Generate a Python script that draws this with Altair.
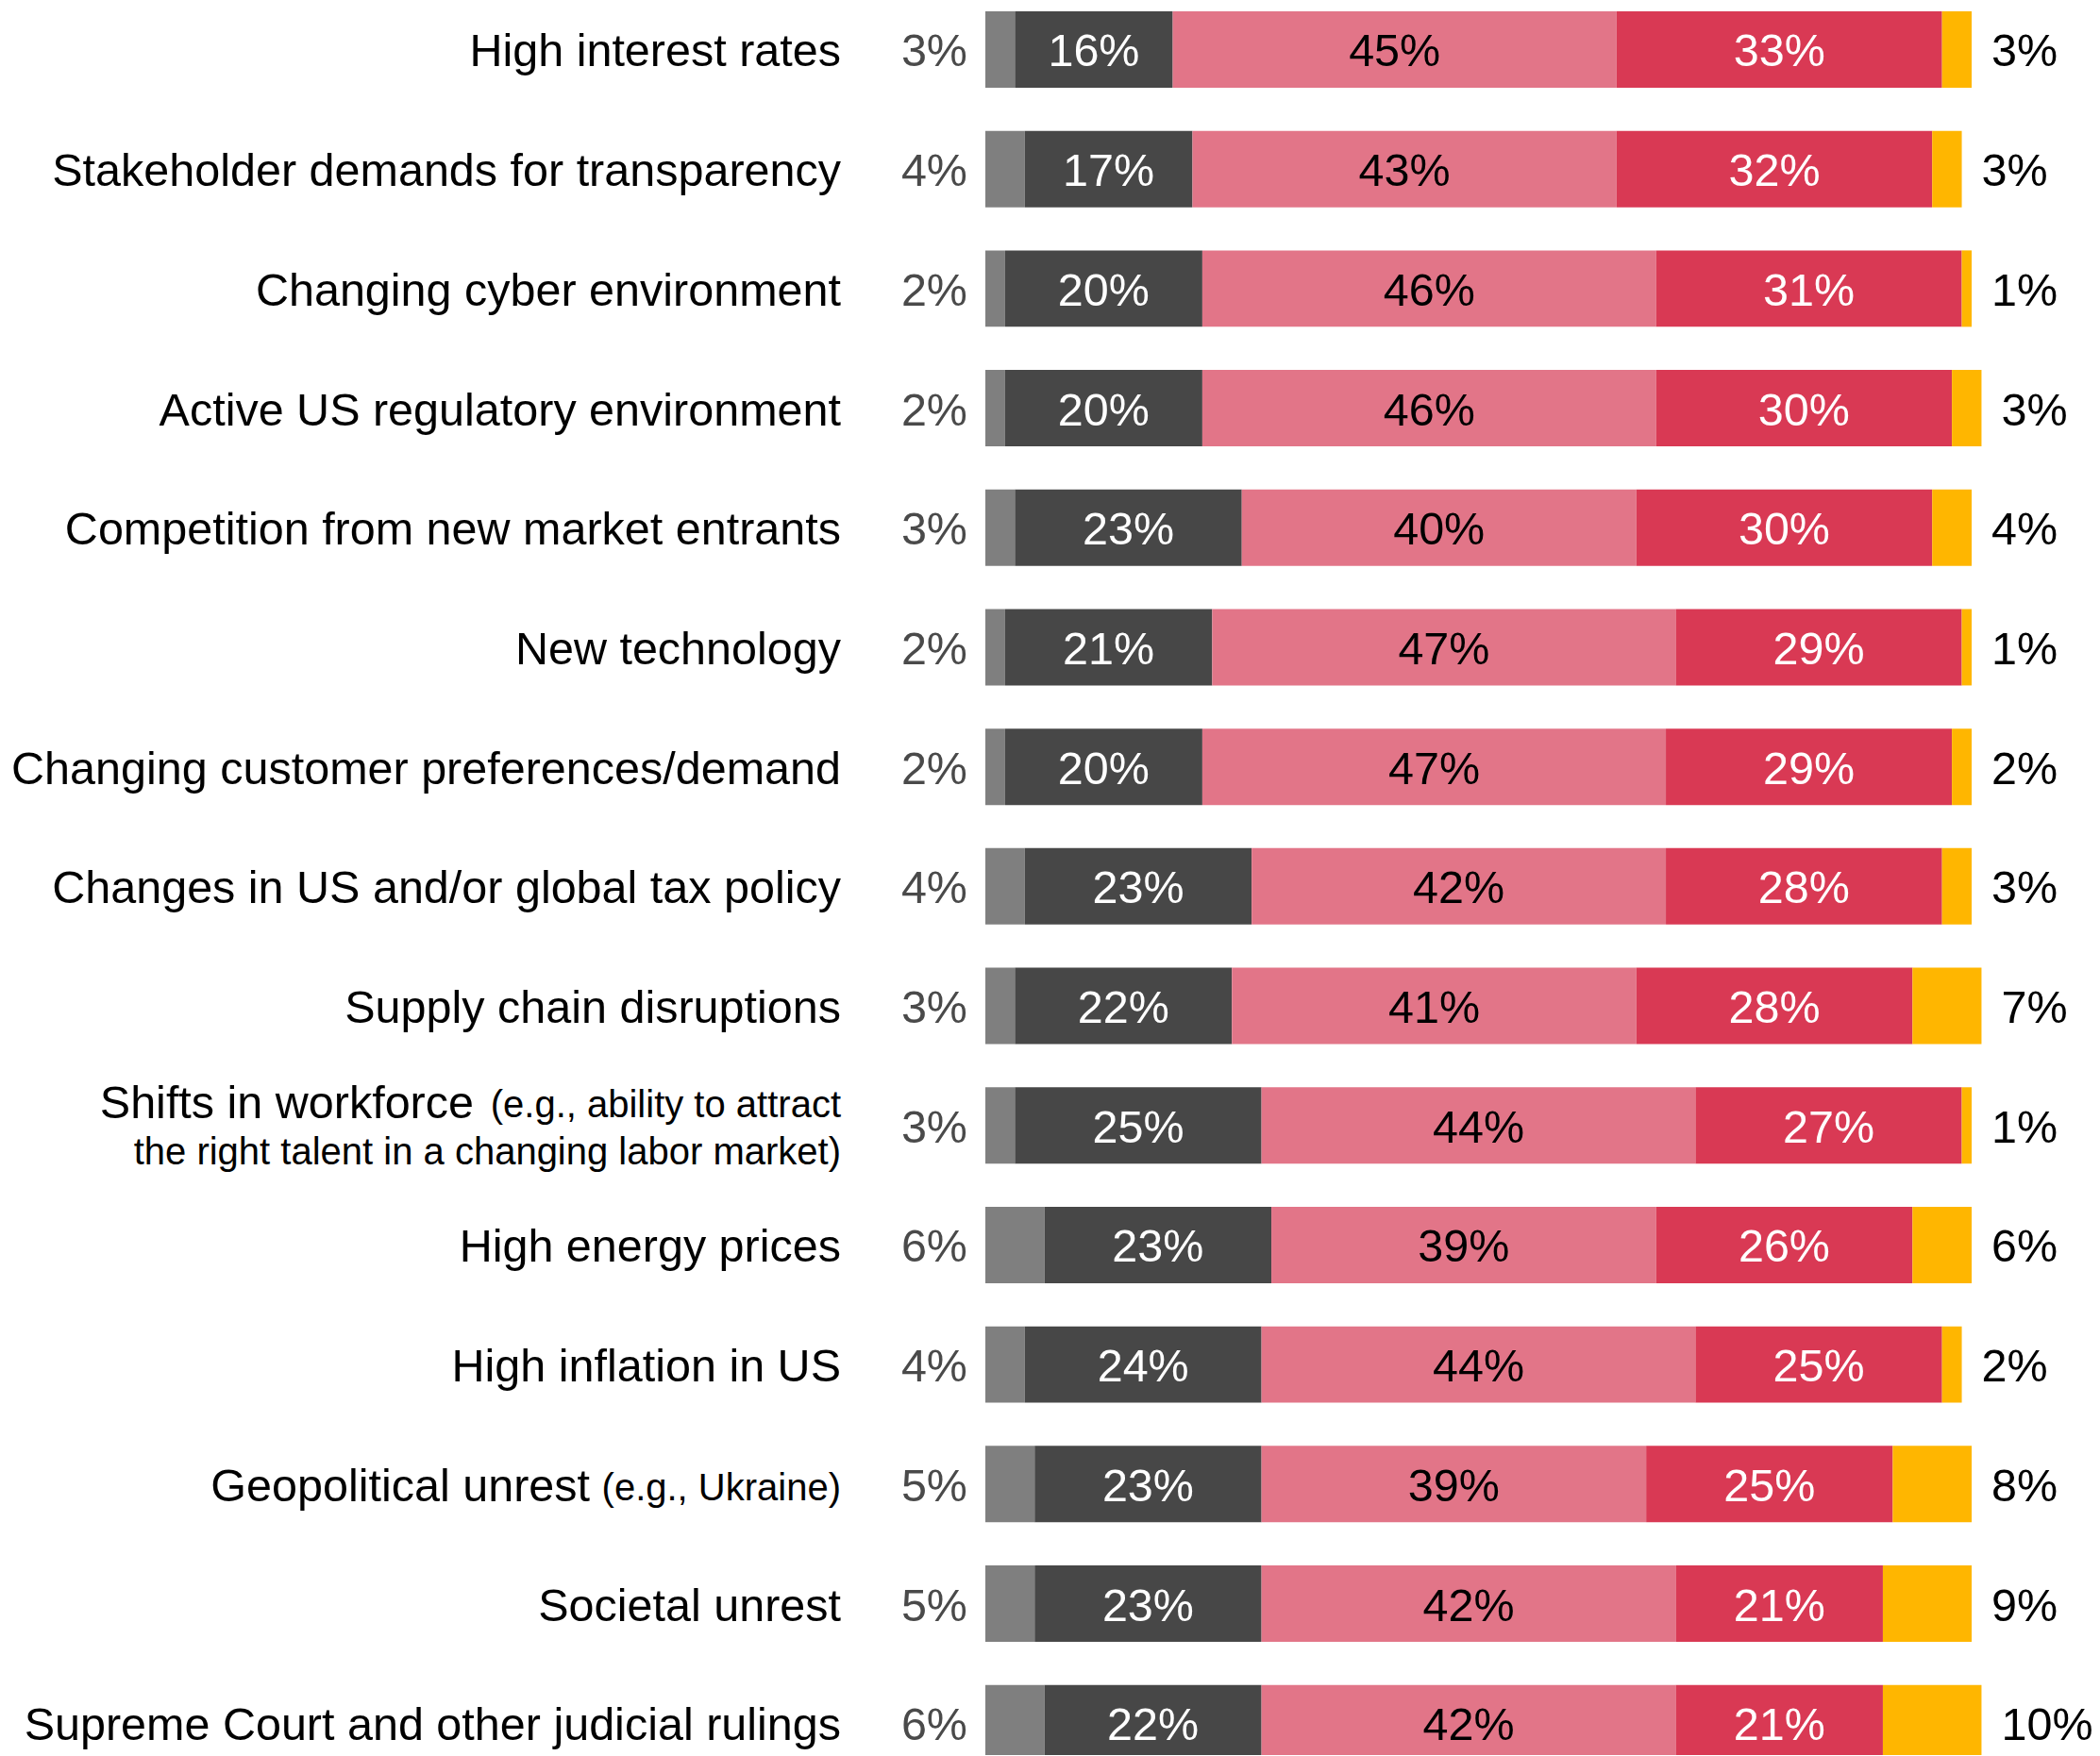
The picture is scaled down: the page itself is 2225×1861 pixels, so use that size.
import altair as alt
import pandas as pd

categories = [
    "High interest rates",
    "Stakeholder demands for transparency",
    "Changing cyber environment",
    "Active US regulatory environment",
    "Competition from new market entrants",
    "New technology",
    "Changing customer preferences/demand",
    "Changes in US and/or global tax policy",
    "Supply chain disruptions",
    "Shifts in workforce",
    "High energy prices",
    "High inflation in US",
    "Geopolitical unrest",
    "Societal unrest",
    "Supreme Court and other judicial rulings",
]
label_notes = {
    "Geopolitical unrest": ["(e.g., Ukraine)"],
    "Shifts in workforce": ["(e.g., ability to attract",
                            "the right talent in a changing labor market)"],
}

segments = ["Not sure", "Low", "Moderate", "Significant", "Very significant"]
seg_colors = ["#7f7f7f", "#474747", "#e27588", "#d93954", "#ffb600"]
seg_text_colors = ["#4a4a4a", "#ffffff", "#000000", "#ffffff", "#000000"]

not_sure = [3, 4, 2, 2, 3, 2, 2, 4, 3, 3, 6, 4, 5, 5, 6]
low = [16, 17, 20, 20, 23, 21, 20, 23, 22, 25, 23, 24, 23, 23, 22]
moderate = [45, 43, 46, 46, 40, 47, 47, 42, 41, 44, 39, 44, 39, 42, 42]
significant = [33, 32, 31, 30, 30, 29, 29, 28, 28, 27, 26, 25, 25, 21, 21]
very_significant = [3, 3, 1, 3, 4, 1, 2, 3, 7, 1, 6, 2, 8, 9, 10]

series = [not_sure, low, moderate, significant, very_significant]

rows = []
for i, cat in enumerate(categories):
    start = 0
    for s, seg in enumerate(segments):
        v = series[s][i]
        rows.append({
            "cat": cat, "seg": seg, "order": s, "value": v,
            "start": start, "end": start + v, "mid": start + v / 2,
            "label": f"{v}%", "tcolor": seg_text_colors[s],
        })
        start += v
seg_df = pd.DataFrame(rows)

tot_rows = []
for i, cat in enumerate(categories):
    tot_rows.append({
        "cat": cat,
        "total": sum(s[i] for s in series),
        "first": f"{not_sure[i]}%",
        "last": f"{very_significant[i]}%",
    })
tot_df = pd.DataFrame(tot_rows)

FONT = "Liberation Sans"
FS = 48.5
FS_SMALL = 40
LABEL_X = -153
DY = 3

y_enc = alt.Y(
    "cat:N", sort=categories, axis=None,
    scale=alt.Scale(range=[0, 1862.7], paddingInner=0.361, paddingOuter=0.0316),
)
x_scale = alt.Scale(domain=[0, 100], nice=False, zero=True)

base_seg = alt.Chart(seg_df)

bars = base_seg.mark_bar().encode(
    x=alt.X("start:Q", scale=x_scale, axis=None),
    x2="end:Q",
    y=y_enc,
    color=alt.Color("seg:N", scale=alt.Scale(domain=segments, range=seg_colors), legend=None),
)

inner_text = base_seg.transform_filter(
    "datum.order >= 1 && datum.order <= 3"
).mark_text(font=FONT, fontSize=FS, baseline="middle", align="center", dy=DY).encode(
    x=alt.X("mid:Q", scale=x_scale),
    y=y_enc,
    text="label:N",
    color=alt.Color("tcolor:N", scale=None),
)

base_tot = alt.Chart(tot_df)

left_text = base_tot.mark_text(
    font=FONT, fontSize=FS, baseline="middle", align="right", dx=-19, dy=DY, color="#4a4a4a"
).encode(
    x=alt.datum(0, scale=x_scale),
    y=y_enc,
    text="first:N",
)

right_text = base_tot.mark_text(
    font=FONT, fontSize=FS, baseline="middle", align="left", dx=21, dy=DY, color="#000000"
).encode(
    x=alt.X("total:Q", scale=x_scale),
    y=y_enc,
    text="last:N",
)

plain_cats = [c for c in categories if c not in label_notes]
cat_plain = base_tot.transform_filter(
    alt.FieldOneOfPredicate(field="cat", oneOf=plain_cats)
).mark_text(font=FONT, fontSize=FS, baseline="middle", align="right", dy=DY, color="#000000").encode(
    x=alt.value(LABEL_X), y=y_enc, text="cat:N",
)

geo = "Geopolitical unrest"
cat_geo_main = base_tot.transform_filter(alt.datum.cat == geo).mark_text(
    font=FONT, fontSize=FS, baseline="middle", align="right", dy=DY, color="#000000"
).encode(x=alt.value(LABEL_X - 266), y=y_enc, text="cat:N")
cat_geo_note = base_tot.transform_filter(alt.datum.cat == geo).transform_calculate(
    note=f"'{label_notes[geo][0]}'"
).mark_text(
    font=FONT, fontSize=FS_SMALL, baseline="middle", align="right", color="#000000", dy=DY + 2
).encode(x=alt.value(LABEL_X), y=y_enc, text="note:N")

wf = "Shifts in workforce"
cat_wf_main = base_tot.transform_filter(alt.datum.cat == wf).mark_text(
    font=FONT, fontSize=FS, baseline="middle", align="right", color="#000000", dy=DY - 26
).encode(x=alt.value(LABEL_X - 389), y=y_enc, text="cat:N")
cat_wf_note1 = base_tot.transform_filter(alt.datum.cat == wf).transform_calculate(
    note=f"'{label_notes[wf][0]}'"
).mark_text(
    font=FONT, fontSize=FS_SMALL, baseline="middle", align="right", color="#000000", dy=DY - 24
).encode(x=alt.value(LABEL_X), y=y_enc, text="note:N")
cat_wf_note2 = base_tot.transform_filter(alt.datum.cat == wf).transform_calculate(
    note=f"'{label_notes[wf][1]}'"
).mark_text(
    font=FONT, fontSize=FS_SMALL, baseline="middle", align="right", color="#000000", dy=DY + 26
).encode(x=alt.value(LABEL_X), y=y_enc, text="note:N")

chart = alt.layer(
    bars, inner_text, left_text, right_text,
    cat_plain, cat_geo_main, cat_geo_note, cat_wf_main, cat_wf_note1, cat_wf_note2,
).properties(
    width=1045,
    height=1852,
    autosize=alt.AutoSizeParams(type="none"),
    padding={"left": 1036, "top": 0, "right": 128, "bottom": 0},
).configure(
    background="#ffffff",
    view=alt.ViewConfig(stroke=None),
)

chart.save("out.html", embed_options={"renderer": "svg", "actions": False})
